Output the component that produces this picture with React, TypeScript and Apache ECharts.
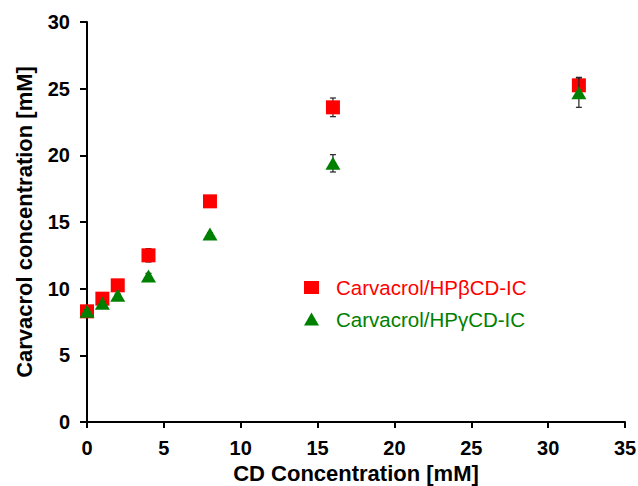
import React, { useEffect, useRef } from "react";
import * as echarts from "echarts";

const cdConc = [0, 1, 2, 4, 8, 16, 32];
const hpbValues = [8.3, 9.25, 10.25, 12.5, 16.55, 23.6, 25.25];
const hpbErr = [0.1, 0.1, 0.1, 0.5, 0.1, 0.7, 0.6];
const hpgValues = [8.3, 8.9, 9.5, 10.95, 14.1, 19.4, 24.7];
const hpgErr = [0.1, 0.1, 0.1, 0.2, 0.1, 0.65, 1.1];
const xTicks = { min: 0, max: 35, interval: 5 };
const yTicks = { min: 0, max: 30, interval: 5 };
const hpbName = "Carvacrol/HPβCD-IC";
const hpgName = "Carvacrol/HPγCD-IC";

const FONT = "Liberation Sans, Arial, sans-serif";

function errSeries(values: number[], errs: number[], z: number) {
  return {
    type: "custom",
    z,
    silent: true,
    data: cdConc.map((x, i) => [x, values[i] - errs[i], values[i] + errs[i]]),
    renderItem: (params: any, api: any) => {
      const x = api.value(0);
      const lo = api.coord([x, api.value(1)]);
      const hi = api.coord([x, api.value(2)]);
      const style = { stroke: "#222", lineWidth: 1.2 };
      const cap = 3;
      return {
        type: "group",
        children: [
          { type: "line", shape: { x1: lo[0], y1: lo[1], x2: hi[0], y2: hi[1] }, style },
          { type: "line", shape: { x1: lo[0] - cap, y1: lo[1], x2: lo[0] + cap, y2: lo[1] }, style },
          { type: "line", shape: { x1: hi[0] - cap, y1: hi[1], x2: hi[0] + cap, y2: hi[1] }, style },
        ],
      };
    },
  };
}

export default function App() {
  const ref = useRef<HTMLDivElement>(null);
  useEffect(() => {
    if (!ref.current) return;
    const chart = echarts.init(ref.current, null, { renderer: "svg" });
    chart.setOption({
      animation: false,
      backgroundColor: "#fff",
      grid: { left: 87, top: 22, right: 13, bottom: 64, containLabel: false, outerBoundsMode: "none" },
      legend: {
        orient: "vertical",
        left: 304,
        top: 277,
        padding: 0,
        itemWidth: 15,
        itemHeight: 13,
        itemGap: 10.5,
        textStyle: { fontFamily: FONT, fontSize: 20.5, padding: [0, 0, 0, 12] },
        data: [
          { name: hpbName, icon: "rect", textStyle: { color: "#ff0000" } },
          { name: hpgName, icon: "triangle", textStyle: { color: "#008000" } },
        ],
      },
      xAxis: {
        type: "value",
        ...xTicks,
        name: "CD Concentration [mM]",
        nameLocation: "middle",
        nameGap: 31,
        nameTextStyle: { fontFamily: FONT, fontSize: 22, fontWeight: "bold", color: "#000" },
        axisLine: { show: true, onZero: false, lineStyle: { color: "#000", width: 2 } },
        axisTick: { show: true, inside: false, length: 6, lineStyle: { color: "#000", width: 2 } },
        axisLabel: { fontFamily: FONT, fontSize: 20, fontWeight: "bold", color: "#000", margin: 16 },
        splitLine: { show: false },
      },
      yAxis: {
        type: "value",
        ...yTicks,
        name: "Carvacrol concentration [mM]",
        nameLocation: "middle",
        nameGap: 52,
        nameTextStyle: { fontFamily: FONT, fontSize: 22, fontWeight: "bold", color: "#000" },
        axisLine: { show: true, onZero: false, lineStyle: { color: "#000", width: 2 } },
        axisTick: { show: true, inside: false, length: 7, lineStyle: { color: "#000", width: 2 } },
        axisLabel: { fontFamily: FONT, fontSize: 20, fontWeight: "bold", color: "#000", margin: 17 },
        splitLine: { show: false },
      },
      series: [
        errSeries(hpbValues, hpbErr, 1),
        {
          name: hpbName,
          type: "scatter",
          symbol: "rect",
          symbolSize: 14,
          z: 2,
          itemStyle: { color: "#ff0000", opacity: 1 },
          data: cdConc.map((x, i) => [x, hpbValues[i]]),
        },
        errSeries(hpgValues, hpgErr, 3),
        {
          name: hpgName,
          type: "scatter",
          symbol: "triangle",
          symbolSize: [15, 13],
          z: 4,
          itemStyle: { color: "#008000", opacity: 1 },
          data: cdConc.map((x, i) => [x, hpgValues[i]]),
        },
      ],
    });
    return () => chart.dispose();
  }, []);
  return <div ref={ref} style={{ width: 638, height: 486, position: "absolute", left: 0, top: 0 }} />;
}
